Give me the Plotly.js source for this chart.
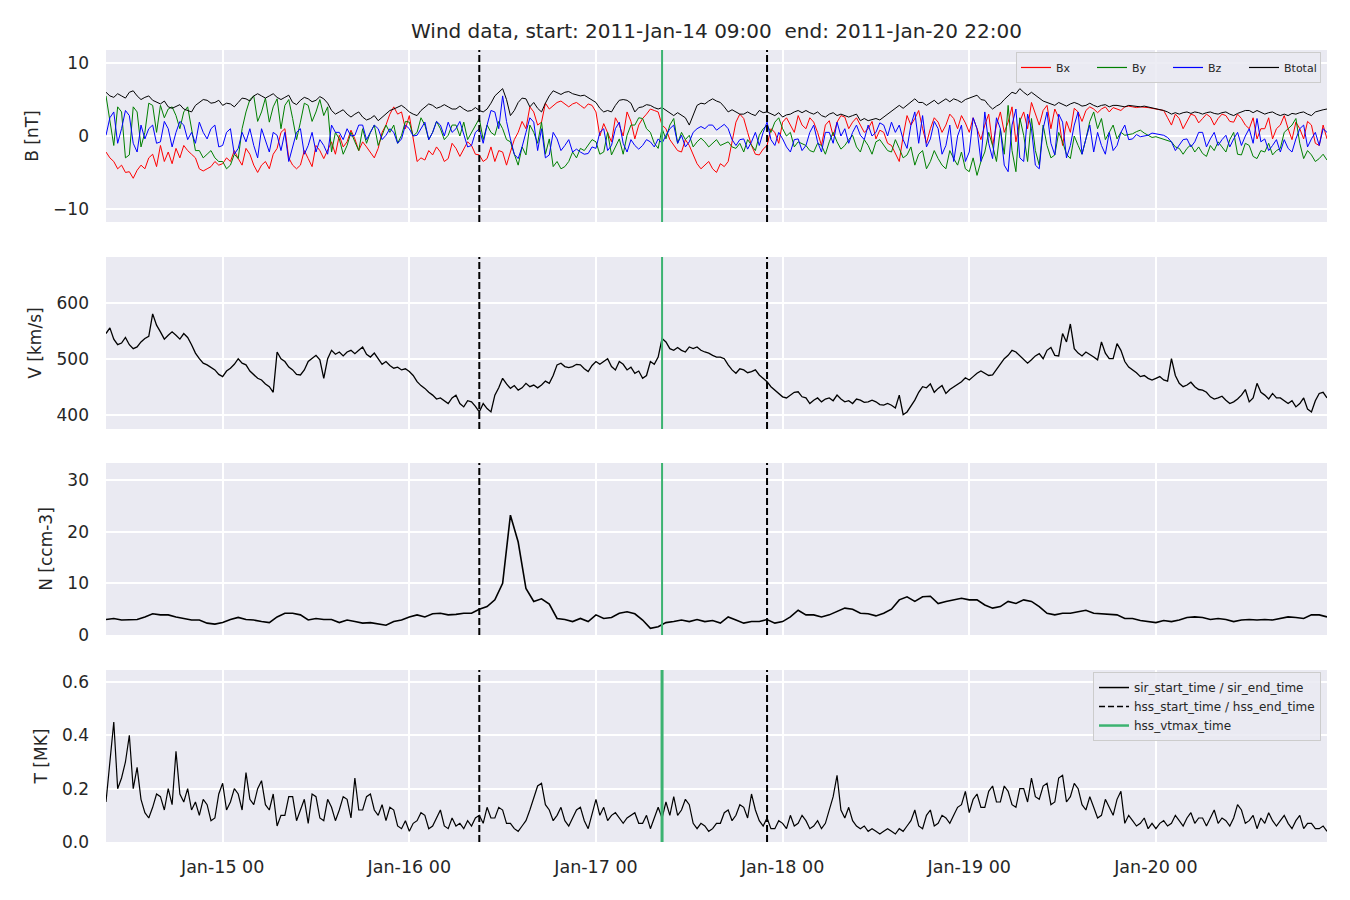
<!DOCTYPE html>
<html>
<head>
<meta charset="utf-8">
<script src="https://cdn.plot.ly/plotly-3.0.1.min.js"></script>
<style>html,body{margin:0;padding:0;background:#fff;}#chart{width:1350px;height:900px;}</style>
</head>
<body>
<div id="chart"></div>
<script>
// ---- data, start 2011-01-14 09:00 ----
// "on-hour" samples (h = 0..157) and "half-hour" samples (h = 0.5..156.5)
const startTime = "2011-01-14T09:00:00Z";
const endTime = "2011-01-20T22:00:00Z";

const Bx = [
-2.2,-3.5,-4.0,-4.9,-4.7,-4.5,-2.5,-1.3,-2.2,-1.7,
-1.3,-2.5,-4.5,-4.5,-3.5,-3.8,-3.5,-3.1,-1.7,-4.0,
-4.0,-4.5,-1.7,1.0,-4.0,-4.0,-3.1,-1.3,-3.1,-0.8,
0.1,-0.8,-0.4,-0.8,-2.2,-1.7,1.5,4.0,3.3,2.8,
-3.5,-3.3,-2.6,-2.2,-3.1,-1.7,-1.7,-1.3,-2.6,-3.1,
-3.5,-2.2,-2.2,0.5,1.0,3.3,1.9,3.7,4.6,4.4,
4.4,4.2,4.4,3.3,1.7,-0.8,1.5,3.3,-0.4,2.4,
3.7,3.3,1.0,-1.3,-2.2,-1.3,-3.8,-4.0,-4.5,-3.8,
-3.5,1.9,2.4,-1.3,-2.6,-1.3,0.5,1.9,1.5,2.8,
1.0,1.9,-1.3,2.1,1.9,2.6,1.9,1.5,1.0,-0.4,
0.5,-1.3,-3.5,2.8,2.4,1.0,1.0,1.9,1.5,2.4,
2.8,0.5,1.0,1.5,-1.3,3.3,1.9,-0.8,3.3,4.6,
1.5,4.2,3.7,-1.3,0.5,3.3,3.5,3.7,3.7,3.3,
3.7,4.0,4.0,4.0,3.9,3.7,3.5,1.5,2.4,1.9,
2.8,2.4,2.6,2.4,2.8,1.9,2.4,1.0,-0.4,1.0,
-0.4,1.5,1.0,1.9,-0.4,1.5,-1.3,-0.4
];
const BxHalf = [
-3.0,-4.5,-5.0,-5.8,-4.0,-3.0,-4.2,-3.5,-3.8,-3.0,
-2.0,-3.0,-4.8,-4.2,-4.0,-3.0,-2.0,-4.0,-2.5,-5.0,
-3.5,-2.5,0.5,-3.0,-4.5,-2.0,-4.2,-2.0,-2.0,-2.5,
-1.5,0.8,-2.0,-1.5,-3.0,0.5,3.0,3.0,1.0,-0.5,
-3.0,-2.0,-1.5,-3.5,-1.0,-2.8,-0.8,-2.5,-3.5,-1.5,
-2.0,-4.0,-0.5,2.0,4.0,1.5,4.5,4.2,4.8,4.0,
4.6,3.8,4.2,0.0,0.5,2.5,0.0,2.0,1.5,3.0,
3.5,1.5,-0.5,-2.0,-0.5,-2.5,-4.5,-3.5,-5.0,-4.2,
-1.0,3.0,0.5,-2.5,-1.8,1.0,-1.0,2.5,0.5,1.5,
2.5,0.5,1.5,0.0,2.8,1.0,2.5,0.5,2.0,0.8,
-1.0,-2.5,0.0,1.5,3.5,-1.0,2.5,0.5,3.0,1.0,
1.8,2.5,-0.5,3.0,1.5,0.5,4.0,2.0,1.0,3.0,
3.5,1.0,2.5,2.0,3.8,2.0,4.0,3.2,4.0,3.9,
3.5,4.1,3.9,4.0,3.8,3.6,2.5,3.0,1.0,3.0,
1.8,3.0,1.5,3.0,2.0,3.0,1.5,2.5,1.0,2.5,
1.0,2.8,-0.5,1.0,2.0,-1.0,1.5
];
const By = [
5.5,-1.3,3.3,-2.6,3.3,0.5,4.2,4.2,3.7,2.8,
3.3,1.0,-2.0,-2.5,-3.0,-3.5,-4.0,-3.1,3.3,5.5,
3.3,1.9,5.1,4.2,2.4,1.9,4.2,3.3,2.8,-2.2,
-0.4,-1.3,-0.8,1.0,0.5,-1.3,1.5,1.5,0.1,1.9,
0.5,1.5,0.5,1.0,0.1,1.5,1.9,0.5,2.4,1.5,
0.1,1.0,-0.8,-4.0,-2.6,0.5,1.9,-0.4,-3.5,-4.2,
-2.2,-1.7,-1.3,-0.8,-2.2,-2.6,-0.4,0.1,1.5,2.4,
0.5,-1.7,-0.4,2.4,0.5,0.1,-0.8,-0.8,-1.0,-1.3,
-0.8,-1.7,-2.2,-1.3,0.1,1.5,1.9,1.0,0.5,-0.8,
-1.3,-2.2,-1.3,-0.8,-0.8,-1.3,0.1,-2.2,-1.3,-0.8,
-1.3,-2.2,-1.7,-2.6,-4.0,-2.0,-3.5,-3.1,-4.5,-3.1,
-2.2,-4.9,-5.4,-2.2,-1.3,1.0,4.2,-4.9,0.1,2.4,
-4.0,-1.3,-2.6,-0.8,-3.1,-1.3,-0.4,3.3,2.4,0.5,
-0.4,0.1,0.3,0.8,0.1,-0.1,-0.4,-0.8,-1.7,-1.7,
-2.2,-2.4,-1.3,-0.8,-2.2,0.5,-2.6,-1.3,-3.1,-2.2,
-2.6,-1.7,1.0,2.4,-3.1,-2.6,-3.1,-3.3
];
const ByHalf = [
2.0,4.0,-3.0,4.0,-1.5,4.5,0.5,2.5,4.0,1.0,
4.0,-2.0,-3.0,-2.0,-3.5,-4.5,-2.5,1.0,5.0,2.0,
5.2,4.0,1.0,5.0,-0.5,4.5,2.0,5.0,4.0,0.5,
-2.5,0.5,-2.0,-1.0,1.5,0.0,0.5,-1.0,2.0,0.0,
2.5,-0.5,2.0,-0.5,1.5,0.0,-0.5,1.5,-0.5,0.5,
2.0,-0.5,-2.5,-1.5,1.5,-1.0,-2.5,-4.2,-4.5,-3.5,
-3.0,-2.0,-0.5,-2.5,0.5,-1.5,-2.5,1.5,2.5,1.0,
-1.0,1.0,1.5,-1.0,-0.5,-1.5,-0.3,-1.5,-0.5,-1.0,
-1.5,-1.0,-0.5,-2.0,1.0,0.5,2.5,0.0,-1.5,-1.0,
-2.0,-1.0,-2.5,0.5,-1.8,-0.5,-1.5,-0.5,-2.5,-0.5,
-2.0,-0.5,-3.0,-1.5,-2.5,-4.5,-2.0,-4.0,-2.0,-4.0,
-4.5,-3.0,-3.5,0.5,-3.5,-2.5,-2.0,2.5,-3.5,-2.0,
1.5,-3.0,0.5,-2.5,0.0,-2.5,2.0,1.0,-0.5,1.5,
0.5,0.2,0.6,0.4,-0.2,-0.3,-0.6,-1.5,-2.5,-1.2,
-1.5,-2.8,-2.0,-1.5,-0.5,-2.5,-1.0,-2.8,-2.0,-1.0,
-2.0,0.5,1.5,-1.0,-2.0,-3.5,-2.5
];
const Bz = [
0.1,3.3,1.0,2.8,-2.2,-0.4,1.5,-0.8,1.0,0.5,
1.5,0.5,1.9,-0.4,1.5,-1.3,1.0,-1.7,-0.8,-1.3,
1.0,-2.2,0.1,0.5,-1.3,1.0,-1.3,-2.2,-1.3,1.5,
0.5,1.0,0.1,1.5,0.5,1.0,0.1,0.5,-0.4,1.0,
0.1,1.9,0.5,1.5,1.9,1.0,0.1,-1.3,1.0,1.5,
3.3,5.5,-0.4,-3.1,0.5,1.9,1.0,-2.6,-0.4,-1.3,
-2.2,-2.2,-2.4,-1.7,1.0,-1.3,1.9,-2.2,-1.3,-1.3,
-0.8,-0.4,0.1,1.5,0.1,-0.8,1.0,1.0,1.5,1.2,
1.0,-1.3,-0.4,-0.8,-1.3,1.9,-1.3,-0.4,-2.2,-0.4,
-1.3,1.5,-2.2,0.5,1.9,1.0,0.5,0.1,1.5,0.5,
1.5,1.9,1.5,-1.7,3.3,2.8,-0.4,1.0,-1.3,-3.5,
1.5,-2.2,1.0,3.3,-3.1,1.0,-4.9,3.7,-3.5,1.0,
-4.5,3.3,-2.6,1.9,-1.3,3.3,-0.4,-2.2,-1.3,0.5,
-1.3,1.5,-0.4,-0.1,0.1,0.3,0.1,-0.8,-1.3,-0.4,
-0.8,0.5,-0.4,-1.3,0.1,-0.4,-1.3,1.0,2.4,-0.4,
-1.3,-2.2,-1.7,-0.4,1.5,-0.4,-1.3,0.5
];
const BzHalf = [
2.5,-1.0,3.5,-1.0,1.5,1.0,-1.0,2.0,-1.5,2.0,
-0.5,-1.0,0.5,1.0,-1.5,0.5,-2.5,0.5,1.0,-3.0,
-0.5,0.5,-2.0,-3.5,0.5,-2.5,0.5,-0.5,-2.5,0.5,
-0.5,0.0,1.5,-0.5,1.5,-0.5,1.0,-1.0,1.5,0.0,
1.0,-0.5,2.0,0.0,0.5,2.0,-1.5,0.5,-1.0,3.5,
1.0,2.0,-2.5,-1.5,2.5,-2.0,-3.0,0.5,-2.0,-0.5,
-1.8,-2.5,-1.5,0.5,-2.0,1.0,-1.0,-0.5,-1.8,-0.5,
-1.5,-1.0,1.0,-1.0,-1.5,0.5,1.3,1.5,0.8,1.6,
-0.5,-0.5,-1.8,0.5,0.5,-0.5,0.5,-1.5,-0.5,-2.0,
0.5,-0.8,0.5,-1.0,0.0,-1.0,1.5,-0.5,0.0,1.8,
0.0,0.5,-0.5,1.5,-1.0,-1.5,2.0,-2.5,1.5,0.0,
-3.5,2.5,-3.5,-1.0,2.5,-4.0,1.5,-3.0,3.0,-4.0,
1.0,-1.0,3.0,-3.0,1.5,-2.5,1.5,0.5,-2.5,-2.0,
0.5,-0.5,0.2,0.0,0.4,0.2,-0.2,-2.0,-0.5,-1.5,
0.5,-1.5,0.5,-0.5,-1.5,0.5,0.0,-1.0,-0.8,-2.0,
-0.5,-0.5,-2.2,1.0,-1.5,0.5,1.0
];
const Btotal = [
6.0,5.3,5.5,6.0,5.5,5.3,4.9,4.4,4.0,4.0,
3.7,3.3,4.6,4.9,4.6,4.2,4.4,4.6,5.1,5.5,
5.5,5.5,5.3,5.3,4.6,4.9,5.1,4.9,5.1,3.5,
3.3,3.0,3.0,2.6,2.4,2.1,3.0,3.7,4.2,3.3,
2.8,4.0,4.2,4.0,4.0,3.7,3.7,3.5,3.5,3.7,
5.5,6.5,2.8,4.6,5.1,4.6,3.3,5.5,6.0,6.0,
5.8,5.5,5.3,4.6,3.3,3.3,4.9,4.9,3.3,4.0,
4.2,3.7,3.5,2.8,2.8,1.5,4.2,4.4,5.1,4.6,
3.3,3.3,3.0,3.0,3.5,3.3,2.8,2.6,3.0,3.5,
3.5,3.0,2.8,3.0,2.8,2.8,2.8,2.1,2.1,2.4,
2.6,3.3,4.2,4.2,5.1,4.6,4.6,4.4,5.1,5.1,
4.6,5.2,5.6,4.9,3.7,4.4,5.5,5.8,6.0,6.0,
5.1,4.6,4.2,4.4,4.4,4.4,4.2,4.2,4.2,4.0,
4.2,4.0,4.1,4.0,4.0,3.7,3.5,3.0,3.0,3.3,
3.3,3.0,3.3,3.0,3.3,2.8,3.3,3.5,3.5,3.0,
3.3,2.8,2.8,3.0,3.3,2.8,3.5,3.7
];
const BtotalHalf = [
5.5,5.8,5.2,6.2,5.0,5.5,4.6,4.8,3.8,4.3,
3.5,4.2,5.0,4.5,4.9,4.5,4.0,5.2,4.8,5.8,
5.2,5.8,5.0,5.6,4.3,5.3,4.7,5.4,4.5,3.0,
3.6,2.6,3.3,2.2,2.8,2.6,3.5,4.0,3.8,3.0,
3.5,4.4,3.8,4.3,3.7,4.1,3.4,3.9,3.3,4.5,
6.0,5.0,3.5,5.2,4.0,3.8,4.5,6.2,5.7,6.1,
5.6,5.6,5.0,3.8,3.5,4.2,5.0,4.5,3.9,4.3,
3.9,3.9,3.1,3.2,2.5,3.0,4.5,4.8,4.8,4.0,
3.6,3.0,3.3,2.8,3.2,3.0,3.2,2.9,3.3,3.2,
3.2,3.3,2.6,3.2,3.0,2.6,3.0,2.4,2.3,2.2,
2.9,3.8,3.8,4.6,4.6,4.2,4.9,4.8,4.7,4.9,
5.0,5.5,5.0,4.2,4.1,5.0,6.0,6.5,5.6,5.6,
4.8,4.4,4.6,4.1,4.6,4.1,4.5,4.0,4.3,4.2,
4.1,4.2,4.0,4.1,3.9,3.6,3.3,3.2,3.2,3.1,
3.2,3.2,3.1,3.2,3.0,3.1,3.5,3.2,3.2,3.2,
3.0,3.0,3.1,3.2,3.0,3.3,3.6
];
const V = [
545,535,528,525,521,536,580,548,542,542,
545,525,500,489,480,468,483,500,489,471,
462,450,512,495,480,471,495,506,465,515,
512,512,509,521,503,500,495,483,480,477,
459,447,435,430,420,435,414,423,405,411,
435,465,447,444,456,453,453,456,489,486,
486,489,477,495,495,486,495,480,474,465,
495,503,530,515,515,521,521,512,506,503,
489,474,480,477,471,459,444,432,435,441,
430,426,423,430,435,423,420,426,423,423,
417,417,435,405,426,450,455,447,438,450,
459,462,474,474,471,489,506,512,498,498,
509,515,506,545,562,510,512,503,530,500,
527,495,480,468,465,465,462,500,456,453,
450,444,432,430,426,423,435,423,456,435,
438,430,420,414,430,405,438,430
];
const VHalf = [
555,525,538,518,530,540,560,535,548,535,
538,510,492,485,472,478,490,492,478,465,
455,440,500,485,472,480,500,498,500,508,
505,515,515,508,510,490,488,485,482,470,
452,440,428,425,430,420,425,415,420,405,
448,455,452,448,450,448,460,470,492,484,
490,482,488,490,500,480,490,485,478,470,
490,536,518,520,512,518,515,510,503,500,
480,482,475,480,465,450,438,430,440,432,
420,430,428,425,428,425,428,422,426,418,
420,412,400,415,440,448,440,452,445,455,
466,468,478,470,480,500,515,505,492,505,
500,520,505,530,518,505,508,498,510,500,
515,485,475,470,462,468,460,470,450,458,
445,440,428,433,420,428,445,430,440,428,
430,425,425,420,410,425,440
];
const N = [
3.0,3.2,2.9,2.9,3.0,3.5,4.1,3.9,3.9,3.5,
3.2,2.9,2.9,2.3,2.1,2.4,3.0,3.4,3.0,2.9,
2.6,2.4,3.5,4.2,4.2,3.9,2.9,3.2,3.0,3.0,
2.4,2.9,2.6,2.3,2.4,2.1,1.9,2.6,2.9,3.5,
3.9,3.5,4.1,4.2,3.9,4.0,4.2,4.2,5.0,5.5,
6.8,10.0,23.2,18.0,9.0,6.5,7.0,6.0,3.2,3.0,
2.6,3.2,2.6,3.9,3.2,3.4,4.2,4.5,4.1,2.9,
1.3,1.6,2.4,2.6,2.9,2.6,3.0,2.6,2.8,2.3,
3.5,2.9,2.3,2.6,2.6,3.0,2.3,2.6,3.5,4.8,
3.9,3.9,3.5,3.9,4.5,5.2,5.0,4.2,4.1,3.7,
4.2,5.0,6.8,7.4,6.5,7.4,7.5,6.1,6.5,6.8,
7.1,6.8,6.8,5.8,5.2,5.5,6.5,6.1,6.8,6.5,
5.5,4.2,3.9,4.2,4.2,4.5,4.8,4.2,4.1,3.9,
3.9,3.2,3.2,2.8,2.6,2.4,2.8,2.6,2.9,3.4,
3.5,3.4,3.0,3.2,3.0,2.6,2.9,3.0,2.9,3.0,
2.9,3.2,3.5,3.4,3.2,3.9,3.9,3.5
];
const Temp = [
0.15,0.45,0.24,0.40,0.28,0.11,0.13,0.17,0.20,0.34,
0.15,0.12,0.10,0.14,0.09,0.22,0.15,0.18,0.26,0.14,
0.23,0.12,0.06,0.10,0.17,0.12,0.07,0.17,0.08,0.13,
0.12,0.16,0.24,0.12,0.18,0.10,0.08,0.12,0.05,0.04,
0.08,0.10,0.06,0.12,0.05,0.06,0.05,0.06,0.10,0.13,
0.09,0.12,0.07,0.04,0.08,0.17,0.22,0.12,0.10,0.08,
0.09,0.13,0.05,0.16,0.13,0.10,0.09,0.09,0.11,0.07,
0.05,0.13,0.15,0.17,0.12,0.14,0.05,0.06,0.05,0.07,
0.12,0.10,0.13,0.18,0.08,0.09,0.05,0.07,0.10,0.07,
0.08,0.06,0.05,0.12,0.25,0.09,0.08,0.05,0.04,0.04,
0.04,0.04,0.05,0.06,0.12,0.05,0.12,0.07,0.09,0.10,
0.14,0.11,0.18,0.13,0.21,0.15,0.19,0.13,0.20,0.24,
0.16,0.22,0.15,0.25,0.17,0.20,0.12,0.13,0.10,0.13,
0.16,0.07,0.08,0.07,0.05,0.05,0.08,0.07,0.08,0.09,
0.07,0.09,0.09,0.07,0.08,0.09,0.12,0.08,0.05,0.07,
0.08,0.08,0.07,0.08,0.05,0.07,0.05,0.04
];
const TempHalf = [
0.30,0.20,0.30,0.20,0.16,0.09,0.18,0.12,0.14,0.18,
0.20,0.15,0.16,0.08,0.18,0.12,0.20,0.12,0.16,0.20,
0.14,0.18,0.10,0.17,0.08,0.16,0.18,0.09,0.16,0.08,
0.17,0.09,0.12,0.17,0.12,0.14,0.13,0.06,0.08,0.07,
0.11,0.05,0.09,0.06,0.09,0.07,0.08,0.09,0.07,0.09,
0.13,0.07,0.05,0.06,0.12,0.21,0.14,0.08,0.13,0.06,
0.12,0.08,0.11,0.10,0.08,0.11,0.07,0.10,0.07,0.10,
0.09,0.09,0.10,0.10,0.16,0.07,0.07,0.04,0.07,0.11,
0.08,0.14,0.09,0.12,0.06,0.05,0.08,0.05,0.06,0.10,
0.05,0.08,0.07,0.17,0.12,0.13,0.06,0.06,0.05,0.03,
0.05,0.03,0.04,0.08,0.06,0.10,0.06,0.10,0.07,0.13,
0.19,0.16,0.13,0.19,0.15,0.21,0.14,0.20,0.15,0.17,
0.21,0.14,0.24,0.15,0.22,0.14,0.17,0.09,0.16,0.10,
0.19,0.10,0.06,0.09,0.07,0.07,0.06,0.10,0.06,0.11,
0.09,0.06,0.12,0.09,0.06,0.14,0.07,0.10,0.09,0.11,
0.06,0.10,0.05,0.10,0.07,0.05,0.06
];

// event times
const hssStart = "2011-01-16 09:00";
const hssVtmax = "2011-01-17 08:30";
const hssEnd = "2011-01-17 22:00";

const titleText = "Wind data, start: 2011-Jan-14 09:00\u00a0 end: 2011-Jan-20 22:00";
const yTitles = ["B [nT]", "V [km/s]", "N [ccm-3]", "T [MK]"];
const bNames = ["Bx", "By", "Bz", "Btotal"];
const eventNames = ["sir_start_time / sir_end_time", "hss_start_time / hss_end_time", "hss_vtmax_time"];

// ---- build time axes ----
const t0 = Date.parse(startTime);
function fmt(ms) {
  const d = new Date(ms);
  const p = n => String(n).padStart(2, "0");
  return d.getUTCFullYear() + "-" + p(d.getUTCMonth() + 1) + "-" + p(d.getUTCDate()) + " " + p(d.getUTCHours()) + ":" + p(d.getUTCMinutes());
}
function merge(onHour, half) {
  const out = [];
  onHour.forEach((v, i) => { out.push(v); if (i < half.length) out.push(half[i]); });
  return out;
}
const timesHourly = N.map((_, i) => fmt(t0 + i * 3600000));
const timesHalf = merge(N, N.slice(1)).map((_, i) => fmt(t0 + i * 1800000));

const FONT = "DejaVu Sans, Liberation Sans, sans-serif";
const TXT = "#262626";

const traces = [];
const bCols = ["#ff0000", "#008000", "#0000ff", "#000000"];
[[Bx, BxHalf], [By, ByHalf], [Bz, BzHalf], [Btotal, BtotalHalf]].forEach((pair, k) => {
  traces.push({x: timesHalf, y: merge(pair[0], pair[1]), type: "scatter", mode: "lines", name: bNames[k],
    line: {color: bCols[k], width: 1}, xaxis: "x", yaxis: "y", showlegend: false, legendgroup: bNames[k]});
});
// legend entries for the B components (drawn as stand-alone legend items)
bNames.forEach((nm, k) => {
  traces.push({x: [null], y: [null], type: "scatter", mode: "lines", name: nm, legendgroup: nm,
    line: {color: bCols[k], width: 1.2}, xaxis: "x", yaxis: "y", legend: "legend"});
});
traces.push({x: timesHalf, y: merge(V, VHalf), type: "scatter", mode: "lines", line: {color: "#000", width: 1.3}, xaxis: "x2", yaxis: "y2", showlegend: false});
traces.push({x: timesHourly, y: N, type: "scatter", mode: "lines", line: {color: "#000", width: 1.6}, xaxis: "x3", yaxis: "y3", showlegend: false});
traces.push({x: timesHalf, y: merge(Temp, TempHalf), type: "scatter", mode: "lines", line: {color: "#000", width: 1.2}, xaxis: "x4", yaxis: "y4", showlegend: false});
// legend entries for event lines
const evStyles = [{color: "#000", width: 1.5}, {color: "#000", width: 1.6, dash: "6px,3px"}, {color: "#3cb371", width: 2.5}];
eventNames.forEach((nm, k) => {
  traces.push({x: [null], y: [null], type: "scatter", mode: "lines", name: nm, line: evStyles[k],
    xaxis: "x4", yaxis: "y4", legend: "legend2"});
});

// ---- vertical event lines in every panel ----
const shapes = [];
["", "2", "3", "4"].forEach(s => {
  [hssStart, hssEnd].forEach(t => shapes.push({type: "line", xref: "x" + s, yref: "y" + s + " domain",
    x0: t, x1: t, y0: 0, y1: 1, line: {color: "#000", width: 2, dash: "7px,3px"}}));
  shapes.push({type: "line", xref: "x" + s, yref: "y" + s + " domain", x0: hssVtmax, x1: hssVtmax, y0: 0, y1: 1,
    line: {color: "#3cb371", width: s === "4" ? 3 : 2}});
});

const H = 792; // plot area height in px (top 50, bottom 58)
function dom(top, bot) { return [1 - (bot - 50) / H, 1 - (top - 50) / H]; }
const domains = [dom(50, 222), dom(257, 429), dom(463, 635), dom(670, 842)];
const yRanges = [[-11.8, 11.8], [374.5, 681.6], [0, 33.3], [0, 0.645]];
const yTicks = [[-10, 0, 10], [400, 500, 600], [0, 10, 20, 30], [0, 0.2, 0.4, 0.6]];
const yFmt = ["", "", "", ".1f"];

const layout = {
  width: 1350, height: 900,
  paper_bgcolor: "#ffffff", plot_bgcolor: "#eaeaf2",
  margin: {l: 106, r: 23, t: 50, b: 58},
  font: {family: FONT, size: 17, color: TXT},
  title: {text: titleText, x: 0.5, xref: "paper", y: 1 - 31 / 900, yanchor: "middle", font: {family: FONT, size: 20, color: TXT}},
  showlegend: true,
  legend: {orientation: "h", x: 0.9951, xanchor: "right", y: 0.9975, yanchor: "top",
    bgcolor: "rgba(234,234,242,0.85)", bordercolor: "#cccccc", borderwidth: 1,
    font: {family: FONT, size: 11, color: TXT}, entrywidth: 31, entrywidthmode: "pixels"},
  legend2: {orientation: "v", x: 0.9951, xanchor: "right", y: 0.2146, yanchor: "top",
    bgcolor: "rgba(234,234,242,0.85)", bordercolor: "#cccccc", borderwidth: 1,
    font: {family: FONT, size: 12, color: TXT}, tracegroupgap: 0},
  shapes: shapes
};

["", "2", "3", "4"].forEach((s, i) => {
  layout["xaxis" + s] = {
    type: "date", range: [fmt(t0), fmt(Date.parse(endTime))],
    anchor: "y" + s,
    showgrid: true, gridcolor: "#ffffff", gridwidth: 1.8,
    tick0: "2011-01-15 00:00", dtick: 86400000, tickformat: "%b-%d %H",
    showticklabels: s === "4", ticks: "", zeroline: false, showline: false,
    ticklabelstandoff: 12, tickfont: {family: FONT, size: 17.5, color: TXT}
  };
  if (s !== "4") layout["xaxis" + s].matches = "x4";
  layout["yaxis" + s] = {
    domain: domains[i], anchor: "x" + s, range: yRanges[i],
    tickvals: yTicks[i], tickformat: yFmt[i],
    showgrid: true, gridcolor: "#ffffff", gridwidth: 1.8, zeroline: false, showline: false,
    ticks: "", ticklabelstandoff: 16, tickfont: {family: FONT, size: 17, color: TXT},
    title: {text: yTitles[i], font: {family: FONT, size: 17, color: TXT}, standoff: 10}
  };
});

Plotly.newPlot("chart", traces, layout, {displayModeBar: false, staticPlot: true});
</script>
</body>
</html>
